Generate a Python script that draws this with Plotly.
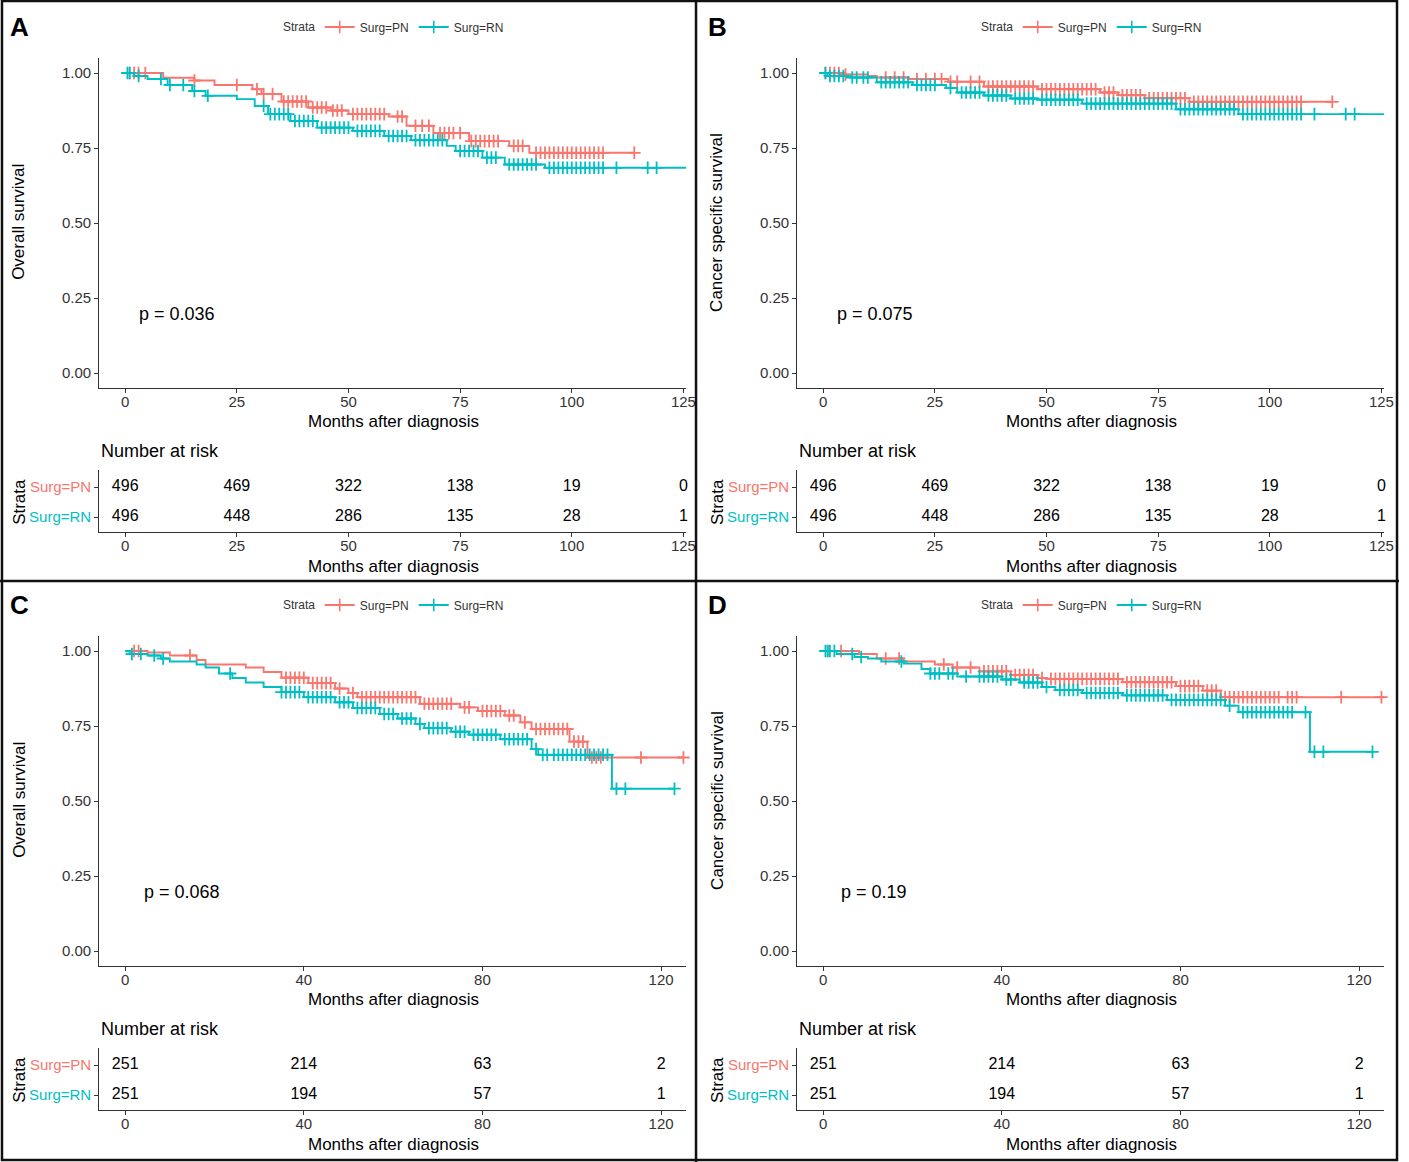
import numpy as np
import plotly.graph_objects as go

W, H = 1409, 1162
RED = "#F8766D"
TEAL = "#00BFC4"

# ---- panel A : overall survival, full cohort ----
a_pn_t = [0, 8.5, 15.5, 20, 28.5, 30.5, 35, 41, 46, 50, 59, 63, 69, 77, 86, 90.5, 114]
a_pn_s = [1.0, 0.984, 0.975, 0.96, 0.946, 0.93, 0.905, 0.885, 0.875, 0.863, 0.855, 0.824, 0.80, 0.773, 0.757, 0.734, 0.734]
a_pn_cens = [1, 2, 3, 4.5, 15.5, 25, 29.5, 31, 33, 35.5, 36.5, 37.5, 38.5, 39.5, 40.5, 42, 43, 44, 45, 46.5, 47.5,
             48.5, 51, 52, 53, 54, 55, 56, 57, 58, 61, 62, 65, 66.5, 68, 70.5, 71.5, 72.5, 73.5, 75, 77.5, 78.5, 79.5,
             80.5, 81.5, 82.5, 83.5, 87, 88, 89, 92, 93, 94, 95, 96, 97, 98, 99, 100, 101, 102, 103, 104, 105, 106,
             107, 114]
a_rn_t = [0, 2, 5, 9.5, 15, 18, 25, 29, 32, 37, 43, 51, 58, 64, 72, 74, 80, 85, 94, 126]
a_rn_s = [1.0, 0.99, 0.98, 0.96, 0.94, 0.924, 0.913, 0.89, 0.863, 0.84, 0.818, 0.807, 0.79, 0.776, 0.757, 0.74, 0.718, 0.695, 0.684, 0.684]
a_rn_cens = [0.5, 1, 3, 8, 10, 13, 15.5, 18.5, 31, 32.5, 33.5, 34.5, 35.5, 36.5, 38, 39, 40, 41, 42, 44, 45, 46, 47,
             48, 49, 50, 52, 53, 54, 55, 56, 57, 59, 60, 61, 62, 63, 65, 66, 67, 68, 69, 70, 71, 75, 76, 77, 78, 79,
             81, 82, 83, 86, 87, 88, 89, 90, 91, 92, 95, 96, 97, 98, 99, 100, 101, 102, 103, 104, 105, 106, 107, 110,
             117, 119]

# ---- panel B : cancer specific survival, full cohort ----
b_pn_t = [0, 4, 10, 12, 19, 28, 36, 48, 62, 66, 72, 82, 114]
b_pn_s = [1.0, 0.995, 0.99, 0.985, 0.98, 0.971, 0.955, 0.946, 0.935, 0.926, 0.916, 0.904, 0.904]
b_pn_cens = [0.5, 1.5, 2.5, 3.5, 5, 14, 16, 18, 21, 23, 25, 26.5, 28.5, 30, 33, 35, 37, 38, 39, 40, 41, 42, 43, 44,
             45, 46, 47, 49, 50, 51, 52, 53, 54, 55, 56, 57, 58, 59, 60, 61, 63, 64, 65, 67, 68, 69, 70, 71, 73, 74,
             75, 76, 77, 78, 79, 80, 81, 83, 84, 85, 86, 87, 88, 89, 90, 91, 92, 93, 94, 95, 96, 97, 98, 99, 100,
             101, 102, 103, 104, 105, 106, 107, 114]
b_rn_t = [0, 1, 6, 12, 20, 27.5, 30, 36, 42, 48, 58, 79, 93, 126]
b_rn_s = [1.0, 0.99, 0.985, 0.969, 0.96, 0.95, 0.935, 0.925, 0.915, 0.911, 0.898, 0.879, 0.863, 0.863]
b_rn_cens = [0.5, 1.5, 2.5, 3.5, 4.5, 6.5, 7.5, 9, 10, 13, 14, 15, 16, 17, 18, 19, 21, 22, 23, 24, 25, 28.5, 31, 32,
             33, 34, 35, 37, 38, 39, 40, 41, 43, 44, 45, 46, 47, 49, 50, 51, 52, 53, 54, 55, 56, 57, 59, 60, 61, 62,
             63, 64, 65, 66, 67, 68, 69, 70, 71, 72, 73, 74, 75, 76, 77, 78, 80, 81, 82, 83, 84, 85, 86, 87, 88, 89,
             90, 91, 92, 94, 95, 96, 97, 98, 99, 100, 101, 102, 103, 104, 105, 106, 107, 110, 117, 119]

# ---- panel C : overall survival, matched cohort ----
c_pn_t = [0, 5, 10, 16, 18, 27, 31, 35, 41, 47, 50, 52, 66, 75, 79, 85, 88.5, 91, 99.5, 103.5, 125]
c_pn_s = [1.0, 0.995, 0.985, 0.97, 0.955, 0.945, 0.93, 0.911, 0.893, 0.875, 0.86, 0.846, 0.824, 0.812, 0.80, 0.785,
          0.762, 0.74, 0.698, 0.645, 0.645]
c_pn_cens = [2, 3, 14.5, 36, 37, 38, 39, 40, 42, 43, 44, 45, 46, 48, 51, 53, 54, 55, 56, 57, 58, 59, 60, 61, 62, 63,
             64, 65, 67, 68, 69, 70, 71, 72, 73, 76, 77, 80, 81, 82, 83, 84, 86, 87, 89.5, 92, 93, 94, 95, 96, 97,
             98, 99, 100.5, 101.5, 102.5, 104.5, 105.5, 106.5, 115.5, 125]
c_rn_t = [0, 1, 5, 8, 10, 16, 18, 21, 24, 27, 31, 35, 40, 47, 51, 57, 61, 65, 67, 73, 77, 84, 91, 92.5, 109, 123]
c_rn_s = [1.0, 0.99, 0.985, 0.975, 0.965, 0.955, 0.945, 0.925, 0.91, 0.895, 0.88, 0.863, 0.846, 0.829, 0.81, 0.79,
          0.775, 0.757, 0.743, 0.731, 0.721, 0.706, 0.673, 0.654, 0.541, 0.541]
c_rn_cens = [1.5, 3.5, 6.5, 8.5, 23.5, 35, 36, 37, 38, 39, 41, 42, 43, 44, 45, 46, 48, 49, 50, 52, 53, 54, 55, 56, 58,
             59, 60, 62, 63, 64, 66, 68, 69, 70, 71, 72, 74, 75, 76, 78, 79, 80, 81, 82, 83, 85, 86, 87, 88, 89, 90,
             92, 93.5, 94.5, 96, 97, 98, 99, 100, 101, 102, 103, 104, 105, 106, 107, 108, 110, 112, 123]

# ---- panel D : cancer specific survival, matched cohort ----
d_pn_t = [0, 8, 12, 18, 25, 29, 35, 42, 48, 50, 67, 79, 85, 89, 126]
d_pn_s = [1.0, 0.99, 0.975, 0.965, 0.955, 0.945, 0.932, 0.92, 0.91, 0.907, 0.896, 0.883, 0.868, 0.846, 0.846]
d_pn_cens = [1, 4, 14, 17, 27, 30, 33, 36, 37, 38, 39, 40, 41, 43, 44, 45, 46, 47, 49, 51, 52, 53, 54, 55, 56, 57,
             58, 59, 60, 61, 62, 63, 64, 65, 66, 68, 69, 70, 71, 72, 73, 74, 75, 76, 77, 78, 80, 81, 82, 83, 84, 86,
             87, 88, 90, 91, 92, 93, 94, 95, 96, 97, 98, 99, 100, 101, 102, 104, 105, 106, 116, 125]
d_rn_t = [0, 3, 7, 10, 13, 18, 22, 24, 30, 40, 44, 49, 52, 58, 67, 77, 90, 93, 109, 123]
d_rn_s = [1.0, 0.99, 0.98, 0.975, 0.965, 0.958, 0.94, 0.925, 0.915, 0.905, 0.895, 0.88, 0.87, 0.86, 0.852, 0.837,
          0.818, 0.796, 0.664, 0.664]
d_rn_cens = [0.5, 1, 1.5, 2.5, 6.5, 8.5, 17.5, 24, 25, 26, 28, 29, 32, 35, 36, 37, 38, 39, 41, 42, 45, 46, 47, 48, 50,
             53, 54, 55, 56, 57, 59, 60, 61, 62, 63, 64, 65, 66, 68, 69, 70, 71, 72, 73, 74, 75, 76, 78, 79, 80, 81,
             82, 83, 84, 85, 86, 87, 88, 89, 91, 94, 95, 96, 97, 98, 99, 100, 101, 102, 103, 104, 105, 108, 110,
             112, 123]

# number at risk tables
risk_t_full = [0, 25, 50, 75, 100, 125]
risk_pn_full = [496, 469, 322, 138, 19, 0]
risk_rn_full = [496, 448, 286, 135, 28, 1]
risk_t_match = [0, 40, 80, 120]
risk_pn_match = [251, 214, 63, 2]
risk_rn_match = [251, 194, 57, 1]

p_values = ["p = 0.036", "p = 0.075", "p = 0.068", "p = 0.19"]
y_titles = ["Overall survival", "Cancer specific survival", "Overall survival", "Cancer specific survival"]
letters = ["A", "B", "C", "D"]

panels = [
    dict(off=(0, 0), pn=(a_pn_t, a_pn_s, a_pn_cens), rn=(a_rn_t, a_rn_s, a_rn_cens),
         risk=(risk_t_full, risk_pn_full, risk_rn_full), p_x=2.7),
    dict(off=(703, 0), pn=(b_pn_t, b_pn_s, b_pn_cens), rn=(b_rn_t, b_rn_s, b_rn_cens),
         risk=(risk_t_full, risk_pn_full, risk_rn_full), p_x=2.7),
    dict(off=(0, 578), pn=(c_pn_t, c_pn_s, c_pn_cens), rn=(c_rn_t, c_rn_s, c_rn_cens),
         risk=(risk_t_match, risk_pn_match, risk_rn_match), p_x=3.8),
    dict(off=(703, 578), pn=(d_pn_t, d_pn_s, d_pn_cens), rn=(d_rn_t, d_rn_s, d_rn_cens),
         risk=(risk_t_match, risk_pn_match, risk_rn_match), p_x=3.6),
]

FONT = "Liberation Sans, Arial, sans-serif"
TICK_COL = "#333333"
XR = [-5.8, 125.6]


def fx(p):
    return p / W


def fy(p):
    return 1 - p / H


def surv_at(t, s, c):
    idx = np.searchsorted(np.array(t), np.array(c), side="right") - 1
    return np.array(s)[idx]


fig = go.Figure()
annotations = []
layout_axes = {}


def ann(px, py, text, size, angle=0, xanchor="center", bold=False, color="black"):
    annotations.append(dict(x=fx(px), y=fy(py), xref="paper", yref="paper", text=text, showarrow=False,
                            xanchor=xanchor, yanchor="middle", textangle=angle,
                            font=dict(size=size, color=color, family=("Arial Black, " + FONT) if bold else FONT)))


for i, pnl in enumerate(panels):
    ox, oy = pnl["off"]
    k_main, k_risk = 2 * i + 1, 2 * i + 2
    xm = "x" if k_main == 1 else f"x{k_main}"
    ym = "y" if k_main == 1 else f"y{k_main}"
    xr, yr = f"x{k_risk}", f"y{k_risk}"
    leg = "legend" if i == 0 else f"legend{i + 1}"
    ticks = pnl["risk"][0]

    for name, col, (t, s, c) in [("Surg=PN", RED, pnl["pn"]), ("Surg=RN", TEAL, pnl["rn"])]:
        fig.add_trace(go.Scatter(x=t, y=s, mode="lines", line=dict(color=col, width=1.9, shape="hv"),
                                 xaxis=xm, yaxis=ym, showlegend=False, hoverinfo="skip", cliponaxis=False))
        fig.add_trace(go.Scatter(x=c, y=surv_at(t, s, c), mode="markers",
                                 marker=dict(symbol="cross-thin", size=9, line=dict(color=col, width=1.8)),
                                 xaxis=xm, yaxis=ym, showlegend=False, hoverinfo="skip", cliponaxis=False))
        # legend entry
        fig.add_trace(go.Scatter(x=[None], y=[None], mode="lines+markers", name=name,
                                 line=dict(color=col, width=1.8),
                                 marker=dict(symbol="cross-thin", size=9, line=dict(color=col, width=1.6)),
                                 xaxis=xm, yaxis=ym, legend=leg))

    # number at risk table
    rt, rpn, rrn = pnl["risk"]
    for yv, vals in [(1, rpn), (0, rrn)]:
        fig.add_trace(go.Scatter(x=rt, y=[yv] * len(rt), mode="text", text=[str(v) for v in vals],
                                 textfont=dict(size=16, color="black", family=FONT), cliponaxis=False,
                                 xaxis=xr, yaxis=yr, showlegend=False, hoverinfo="skip"))

    common = dict(showgrid=False, zeroline=False, showline=True, linecolor=TICK_COL, linewidth=1.2,
                  ticks="outside", ticklen=4, tickcolor=TICK_COL,
                  tickfont=dict(size=15, color=TICK_COL, family=FONT))
    xdom = [fx(ox + 100), fx(ox + 691)]
    layout_axes["xaxis" if k_main == 1 else f"xaxis{k_main}"] = dict(
        domain=xdom, range=XR, tickvals=ticks, anchor=ym, ticklabelstandoff=-4, **common)
    layout_axes["yaxis" if k_main == 1 else f"yaxis{k_main}"] = dict(
        domain=[fy(oy + 388), fy(oy + 58)], range=[-0.05, 1.05], tickvals=[0, 0.25, 0.5, 0.75, 1],
        tickformat=".2f", anchor=xm, **common)
    layout_axes[f"xaxis{k_risk}"] = dict(domain=xdom, range=XR, tickvals=ticks, anchor=yr,
                                         ticklabelstandoff=-4, **common)
    rc = dict(common)
    rc["tickfont"] = dict(size=15, family=FONT)
    layout_axes[f"yaxis{k_risk}"] = dict(
        domain=[fy(oy + 532), fy(oy + 470)], range=[-0.5, 1.567], tickvals=[1, 0],
        ticktext=[f"<span style='color:{RED}'>Surg=PN</span>", f"<span style='color:{TEAL}'>Surg=RN</span>"],
        anchor=xr, **rc)

    # legend for this panel, "Strata" drawn beside it
    fig.update_layout({leg: dict(orientation="h", x=fx(ox + 322), y=fy(oy + 27), xanchor="left",
                                 yanchor="middle", font=dict(size=12, color="#333333", family=FONT),
                                 bgcolor="rgba(0,0,0,0)", itemwidth=30, tracegroupgap=0)})
    ann(ox + 319, oy + 27, "Strata", 12, xanchor="right", color="#333333")

    ann(ox + 8, oy + 27, f"<b>{letters[i]}</b>", 26, xanchor="left", bold=True)
    ann(ox + 19, oy + 222, y_titles[i], 17, angle=-90)
    ann(ox + 396, oy + 421, "Months after diagnosis", 17)
    ann(ox + 100, oy + 451, "Number at risk", 18, xanchor="left")
    ann(ox + 19, oy + 502, "Strata", 17, angle=-90)
    ann(ox + 396, oy + 566, "Months after diagnosis", 17)
    annotations.append(dict(x=pnl["p_x"], y=0.198, xref=xm, yref=ym, text=p_values[i], showarrow=False,
                            xanchor="left", yanchor="middle", font=dict(size=18, color="black", family=FONT)))

# panel frames
shapes = [
    dict(type="rect", xref="paper", yref="paper", x0=fx(2), x1=fx(1407), y0=fy(1160), y1=fy(1),
         line=dict(color="#111111", width=2.5)),
    dict(type="line", xref="paper", yref="paper", x0=fx(701), x1=fx(701), y0=0, y1=1,
         line=dict(color="#111111", width=2.5)),
    dict(type="line", xref="paper", yref="paper", x0=0, x1=1, y0=fy(581), y1=fy(581),
         line=dict(color="#111111", width=2.5)),
]

fig.update_layout(
    autosize=True, margin=dict(l=0, r=0, t=0, b=0),
    paper_bgcolor="white", plot_bgcolor="white",
    font=dict(family=FONT),
    annotations=annotations, shapes=shapes,
    **layout_axes,
)

fig.write_html("out.html", config={"displayModeBar": False, "responsive": True},
               default_width="100vw", default_height="100vh",
               post_script="document.body.style.margin='0';document.body.style.overflow='hidden';"
                           "document.documentElement.style.overflow='hidden';")
